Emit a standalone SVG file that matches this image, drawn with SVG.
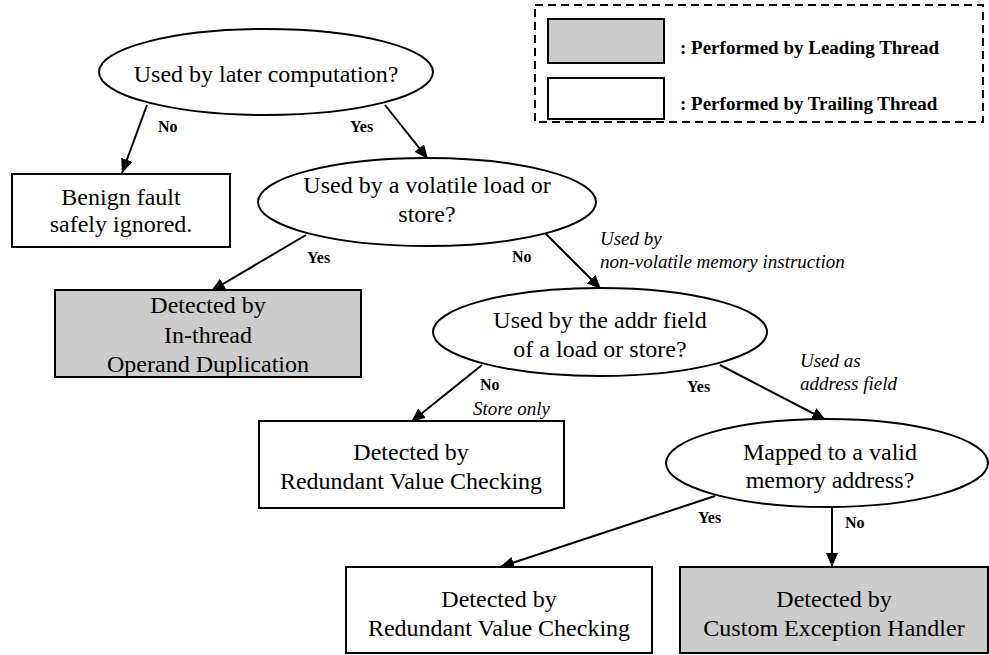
<svg xmlns="http://www.w3.org/2000/svg" width="989" height="655" viewBox="0 0 989 655">
<style>
.node{fill:#fff;stroke:#000;stroke-width:2}
.lead{fill:#cccccc;stroke:#000;stroke-width:2}
text{font-family:'Liberation Serif','DejaVu Serif',serif}
.t{font-size:24px;fill:#000;text-anchor:middle}
.lbl{font-size:16px;font-weight:bold;fill:#000}
.it{font-size:19px;font-style:italic;fill:#000}
.leg{font-size:19px;font-weight:bold;fill:#000}
.edge{stroke:#000;stroke-width:2;fill:none;marker-end:url(#arr)}
</style>
<defs>
<marker id="arr" markerUnits="userSpaceOnUse" markerWidth="14" markerHeight="12" refX="14" refY="6" orient="auto">
<path d="M0,0 L14,6 L0,12 z" fill="#000"/>
</marker>
</defs>
<rect width="989" height="655" fill="#fff"/>

<g id="legend">
<rect x="535" y="5" width="448" height="117" fill="none" stroke="#000" stroke-width="2" stroke-dasharray="8,5"/>
<rect x="548" y="19" width="116" height="44" class="lead"/>
<rect x="548" y="78" width="116" height="41" class="node"/>
<text x="680" y="54" class="leg">: Performed by Leading Thread</text>
<text x="680" y="110" class="leg">: Performed by Trailing Thread</text>
</g>

<g id="connectors">
<line x1="147" y1="105" x2="122" y2="173" class="edge"/>
<line x1="385" y1="105" x2="428" y2="159" class="edge"/>
<line x1="306" y1="235" x2="211" y2="291" class="edge"/>
<line x1="545" y1="233" x2="601" y2="289" class="edge"/>
<line x1="482" y1="365" x2="411" y2="422" class="edge"/>
<line x1="720" y1="365" x2="826" y2="420" class="edge"/>
<line x1="715" y1="496" x2="500" y2="567" class="edge"/>
<line x1="832" y1="507" x2="832" y2="567" class="edge"/>
<text x="158" y="132" class="lbl">No</text>
<text x="350" y="132" class="lbl">Yes</text>
<text x="307" y="263" class="lbl">Yes</text>
<text x="512" y="262" class="lbl">No</text>
<text x="600" y="245" class="it">Used by</text>
<text x="600" y="268" class="it">non-volatile memory instruction</text>
<text x="480" y="390" class="lbl">No</text>
<text x="473" y="415" class="it">Store only</text>
<text x="687" y="392" class="lbl">Yes</text>
<text x="800" y="367" class="it">Used as</text>
<text x="800" y="390" class="it">address field</text>
<text x="698" y="523" class="lbl">Yes</text>
<text x="845" y="528" class="lbl">No</text>
</g>

<g id="q1">
<ellipse cx="266" cy="72" rx="167" ry="43" class="node"/>
<text x="266" y="82" class="t">Used by later computation?</text>
</g>

<g id="benign">
<rect x="12" y="174" width="218" height="73" class="node"/>
<text x="121" y="205" class="t">Benign fault</text>
<text x="121" y="232" class="t">safely ignored.</text>
</g>

<g id="q2">
<ellipse cx="427" cy="202" rx="169" ry="44" class="node"/>
<text x="427" y="193" class="t">Used by a volatile load or</text>
<text x="427" y="222" class="t">store?</text>
</g>

<g id="inthread">
<rect x="55" y="290" width="306" height="87" class="lead"/>
<text x="208" y="313" class="t">Detected by</text>
<text x="208" y="343" class="t">In-thread</text>
<text x="208" y="372" class="t">Operand Duplication</text>
</g>

<g id="q3">
<ellipse cx="600" cy="332" rx="167" ry="44" class="node"/>
<text x="600" y="328" class="t">Used by the addr field</text>
<text x="600" y="357" class="t">of a load or store?</text>
</g>

<g id="rvc1">
<rect x="259" y="421" width="305" height="87" class="node"/>
<text x="411" y="460" class="t">Detected by</text>
<text x="411" y="489" class="t">Redundant Value Checking</text>
</g>

<g id="q4">
<ellipse cx="827" cy="463" rx="161" ry="44" class="node"/>
<text x="830" y="460" class="t">Mapped to a valid</text>
<text x="830" y="488" class="t">memory address?</text>
</g>

<g id="rvc2">
<rect x="346" y="567" width="306" height="86" class="node"/>
<text x="499" y="607" class="t">Detected by</text>
<text x="499" y="636" class="t">Redundant Value Checking</text>
</g>

<g id="ceh">
<rect x="680" y="567" width="308" height="86" class="lead"/>
<text x="834" y="607" class="t">Detected by</text>
<text x="834" y="636" class="t">Custom Exception Handler</text>
</g>
</svg>
